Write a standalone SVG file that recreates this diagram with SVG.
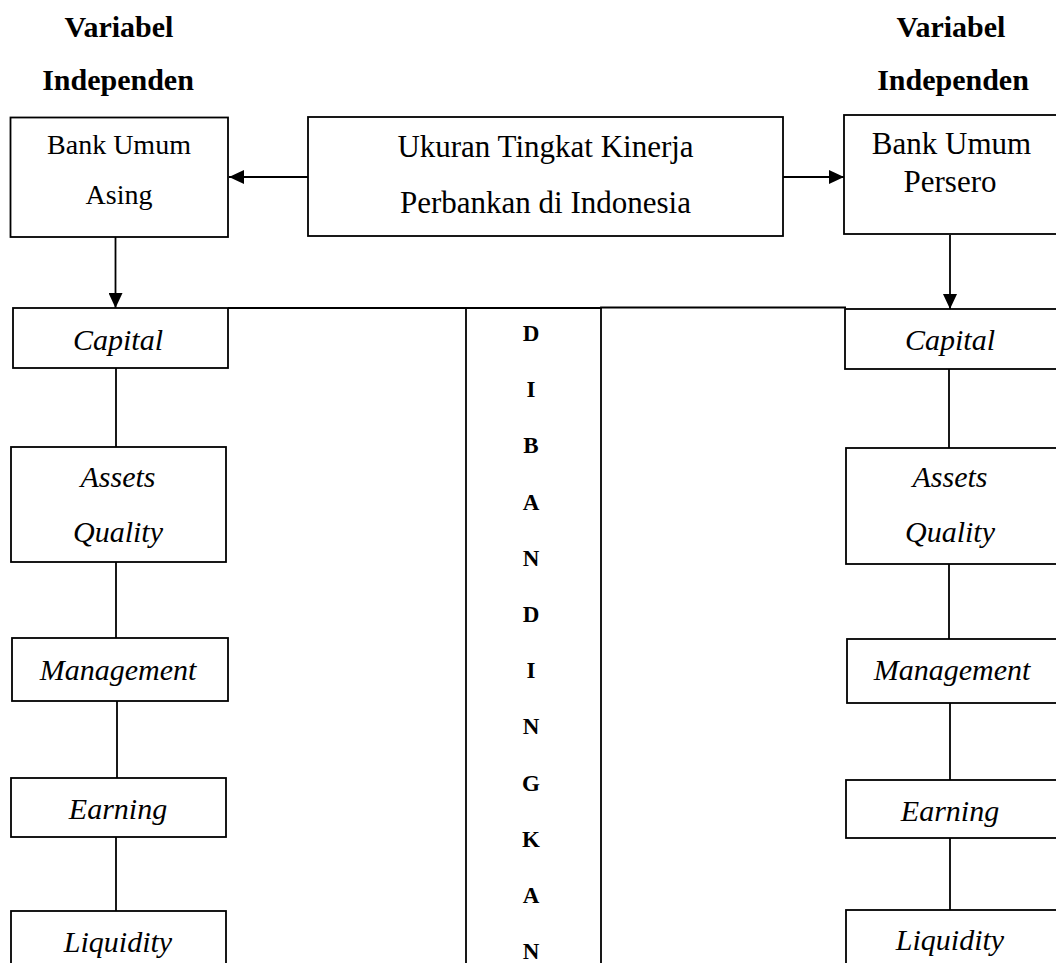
<svg xmlns="http://www.w3.org/2000/svg" width="1056" height="963" viewBox="0 0 1056 963">
<defs>
<style>
.bx{fill:#fff;stroke:#000;stroke-width:1.8}
.ln{fill:none;stroke:#000;stroke-width:1.8}
.t{font-family:"Liberation Serif","Times New Roman",serif;fill:#000;text-anchor:middle}
.h{font-size:30px;font-weight:bold}
.i{font-size:30px;font-style:italic}
.l{font-size:23px;font-weight:bold}
</style>
<marker id="ah" viewBox="0 0 15 14" refX="15" refY="7" markerWidth="15" markerHeight="14" markerUnits="userSpaceOnUse" orient="auto">
<path d="M0,0 L15,7 L0,14 Z" fill="#000"/>
</marker>
</defs>
<rect width="1056" height="963" fill="#fff"/>

<g id="headers">
<text class="t h" x="119" y="37">Variabel</text>
<text class="t h" x="118" y="90">Independen</text>
<text class="t h" x="951" y="37">Variabel</text>
<text class="t h" x="953" y="90">Independen</text>
</g>

<g id="connectors">
<line class="ln" x1="308" y1="177" x2="229" y2="177" marker-end="url(#ah)"/>
<line class="ln" x1="783" y1="177" x2="844" y2="177" marker-end="url(#ah)"/>
<line class="ln" x1="115.5" y1="237" x2="115.5" y2="308" marker-end="url(#ah)"/>
<line class="ln" x1="950" y1="235" x2="950" y2="309" marker-end="url(#ah)"/>
<polyline class="ln" points="228,308 601,308 601,307.5 846,307.5"/>
<line class="ln" x1="116" y1="368" x2="116" y2="447"/>
<line class="ln" x1="116" y1="562" x2="116" y2="638"/>
<line class="ln" x1="117" y1="701" x2="117" y2="778"/>
<line class="ln" x1="116" y1="837" x2="116" y2="911"/>
<line class="ln" x1="949" y1="369" x2="949" y2="448"/>
<line class="ln" x1="949" y1="564" x2="949" y2="639"/>
<line class="ln" x1="950" y1="703" x2="950" y2="780"/>
<line class="ln" x1="950" y1="838" x2="950" y2="910"/>
</g>

<g id="bank-asing">
<rect class="bx" x="10.5" y="117.5" width="217.5" height="119.5"/>
<text class="t" style="font-size:28px" x="119" y="154">Bank Umum</text>
<text class="t" style="font-size:28px" x="119" y="204">Asing</text>
</g>

<g id="ukuran">
<rect class="bx" x="308" y="117" width="475" height="119"/>
<text class="t" style="font-size:31px" x="545.5" y="157">Ukuran Tingkat Kinerja</text>
<text class="t" style="font-size:31px" x="545.5" y="213">Perbankan di Indonesia</text>
</g>

<g id="bank-persero">
<rect class="bx" x="844" y="115" width="230" height="119"/>
<text class="t" style="font-size:31px" x="951.5" y="154">Bank Umum</text>
<text class="t" style="font-size:31px" x="950" y="192">Persero</text>
</g>

<g id="left-capital">
<rect class="bx" x="13" y="308" width="215" height="60"/>
<text class="t i" x="118" y="350">Capital</text>
</g>
<g id="left-assets">
<rect class="bx" x="11" y="447" width="215" height="115"/>
<text class="t i" x="118" y="487">Assets</text>
<text class="t i" x="118" y="542">Quality</text>
</g>
<g id="left-management">
<rect class="bx" x="12" y="638" width="216" height="63"/>
<text class="t i" x="118" y="680">Management</text>
</g>
<g id="left-earning">
<rect class="bx" x="11" y="778" width="215" height="59"/>
<text class="t i" x="118" y="819">Earning</text>
</g>
<g id="left-liquidity">
<rect class="bx" x="11" y="911" width="215" height="70"/>
<text class="t i" x="118" y="952">Liquidity</text>
</g>

<g id="dibandingkan">
<path class="ln" d="M466,308 L466,975 M601,308 L601,975"/>
<text class="t l" x="531" y="341">D</text>
<text class="t l" x="531" y="397.2">I</text>
<text class="t l" x="531" y="453.4">B</text>
<text class="t l" x="531" y="509.6">A</text>
<text class="t l" x="531" y="565.8">N</text>
<text class="t l" x="531" y="622">D</text>
<text class="t l" x="531" y="678.2">I</text>
<text class="t l" x="531" y="734.4">N</text>
<text class="t l" x="531" y="790.6">G</text>
<text class="t l" x="531" y="846.8">K</text>
<text class="t l" x="531" y="903">A</text>
<text class="t l" x="531" y="959.2">N</text>
</g>

<g id="right-capital">
<rect class="bx" x="845" y="309" width="230" height="60"/>
<text class="t i" x="950" y="350">Capital</text>
</g>
<g id="right-assets">
<rect class="bx" x="846" y="448" width="230" height="116"/>
<text class="t i" x="950" y="487">Assets</text>
<text class="t i" x="950" y="542">Quality</text>
</g>
<g id="right-management">
<rect class="bx" x="847" y="639" width="230" height="64"/>
<text class="t i" x="952" y="680">Management</text>
</g>
<g id="right-earning">
<rect class="bx" x="846" y="780" width="230" height="58"/>
<text class="t i" x="950" y="821">Earning</text>
</g>
<g id="right-liquidity">
<rect class="bx" x="846" y="910" width="230" height="70"/>
<text class="t i" x="950" y="950">Liquidity</text>
</g>
</svg>
